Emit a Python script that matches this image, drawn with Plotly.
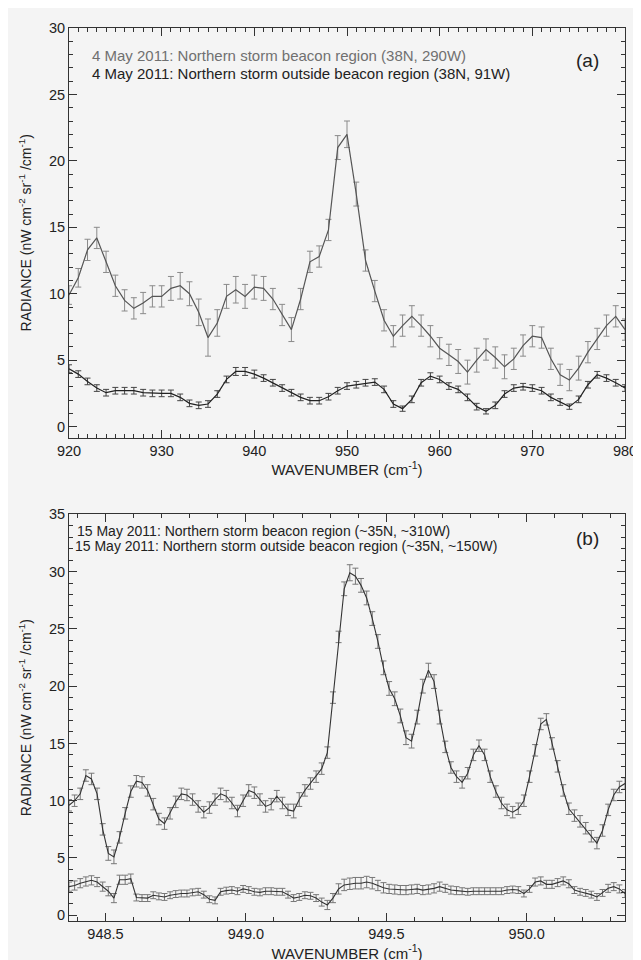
import plotly.graph_objects as go

# ---------------- Panel (a): 4 May 2011, Cassini CIRS ----------------
wn_a = [920, 921, 922, 923, 924, 925, 926, 927, 928, 929,
        930, 931, 932, 933, 934, 935, 936, 937, 938, 939,
        940, 941, 942, 943, 944, 945, 946, 947, 948, 949,
        950, 951, 952, 953, 954, 955, 956, 957, 958, 959,
        960, 961, 962, 963, 964, 965, 966, 967, 968, 969,
        970, 971, 972, 973, 974, 975, 976, 977, 978, 979, 980]

beacon_a = [9.9, 11.2, 13.3, 14.2, 12.4, 10.6, 9.5, 8.9, 9.3, 9.8,
            9.8, 10.4, 10.6, 10.0, 8.6, 6.7, 7.8, 9.8, 10.3, 9.8,
            10.5, 10.4, 9.6, 8.4, 7.3, 9.6, 12.4, 12.8, 14.8, 21.0,
            22.0, 17.5, 12.5, 10.2, 8.0, 6.8, 7.6, 8.3, 7.6, 6.8,
            5.9, 5.4, 4.9, 4.1, 5.0, 5.8, 5.2, 4.5, 5.1, 6.1,
            6.8, 6.7, 5.1, 3.9, 3.5, 4.4, 5.6, 6.6, 7.6, 8.3, 7.3]

beacon_a_err = [0.7, 0.7, 0.8, 0.8, 0.8, 0.8, 0.8, 0.8, 0.8, 0.8,
                0.8, 0.9, 1.0, 0.9, 1.0, 1.4, 1.0, 0.9, 1.0, 0.9,
                0.9, 0.9, 0.8, 0.8, 0.9, 0.8, 0.8, 0.8, 0.8, 0.9,
                1.0, 0.9, 0.8, 0.8, 0.8, 0.8, 0.8, 0.8, 0.8, 0.8,
                0.8, 0.8, 0.9, 0.9, 0.9, 0.8, 0.8, 0.9, 0.8, 0.8,
                0.8, 0.8, 0.8, 0.8, 0.8, 0.9, 0.8, 0.8, 0.8, 0.8, 0.8]

outside_a = [4.35, 3.95, 3.4, 2.9, 2.55, 2.7, 2.7, 2.7, 2.55, 2.5,
             2.5, 2.5, 2.2, 1.75, 1.6, 1.7, 2.45, 3.55, 4.15, 4.15,
             3.95, 3.65, 3.3, 2.9, 2.55, 2.2, 1.95, 1.95, 2.25, 2.7,
             3.05, 3.15, 3.3, 3.35, 2.8, 1.7, 1.35, 2.05, 3.3, 3.8,
             3.55, 3.05, 2.8, 2.2, 1.5, 1.15, 1.6, 2.45, 2.9, 3.0,
             2.9, 2.7, 2.2, 1.85, 1.5, 2.05, 3.15, 3.9, 3.65, 3.3, 2.9]

outside_a_err = [0.3, 0.25, 0.25, 0.25, 0.25, 0.25, 0.25, 0.25, 0.25, 0.25,
                 0.25, 0.25, 0.25, 0.25, 0.25, 0.25, 0.25, 0.25, 0.3, 0.3,
                 0.3, 0.25, 0.25, 0.25, 0.25, 0.25, 0.25, 0.25, 0.25, 0.25,
                 0.25, 0.25, 0.25, 0.25, 0.25, 0.25, 0.2, 0.25, 0.25, 0.25,
                 0.25, 0.25, 0.25, 0.25, 0.25, 0.2, 0.25, 0.25, 0.25, 0.25,
                 0.25, 0.25, 0.25, 0.25, 0.2, 0.25, 0.25, 0.25, 0.25, 0.25, 0.25]

# ---------------- Panel (b): 15 May 2011, high resolution ----------------
wn_b = [948.37, 948.39, 948.41, 948.43, 948.45, 948.47, 948.49, 948.51, 948.53, 948.55,
        948.57, 948.59, 948.61, 948.63, 948.65, 948.67, 948.69, 948.71, 948.73, 948.75,
        948.77, 948.79, 948.81, 948.83, 948.85, 948.87, 948.89, 948.91, 948.93, 948.95,
        948.97, 948.99, 949.01, 949.03, 949.05, 949.07, 949.09, 949.11, 949.13, 949.15,
        949.17, 949.19, 949.21, 949.23, 949.25, 949.27, 949.29, 949.31, 949.33, 949.35,
        949.37, 949.39, 949.41, 949.43, 949.45, 949.47, 949.49, 949.51, 949.53, 949.55,
        949.57, 949.59, 949.61, 949.63, 949.65, 949.67, 949.69, 949.71, 949.73, 949.75,
        949.77, 949.79, 949.81, 949.83, 949.85, 949.87, 949.89, 949.91, 949.93, 949.95,
        949.97, 949.99, 950.01, 950.03, 950.05, 950.07, 950.09, 950.11, 950.13, 950.15,
        950.17, 950.19, 950.21, 950.23, 950.25, 950.27, 950.29, 950.31, 950.33, 950.35]

beacon_b = [9.6, 10.0, 10.6, 12.2, 11.9, 10.6, 7.5, 5.4, 5.1, 6.8,
            8.9, 10.8, 11.7, 11.6, 10.9, 9.7, 8.4, 8.0, 8.9, 9.9,
            10.6, 10.5, 10.1, 9.5, 9.0, 9.4, 10.1, 10.6, 10.4, 9.8,
            9.1, 10.0, 10.9, 10.7, 10.1, 9.5, 9.7, 10.4, 9.8, 9.2,
            9.1, 10.1, 10.9, 11.5, 12.1, 12.8, 14.2, 19.0, 24.3, 28.5,
            29.9, 29.6, 28.8, 27.7, 25.9, 23.9, 21.6, 19.8, 18.9, 17.4,
            15.5, 15.2, 17.3, 20.0, 21.4, 20.4, 17.3, 14.7, 12.9, 12.1,
            11.6, 12.4, 14.0, 14.8, 14.0, 12.1, 10.8, 9.8, 9.2, 9.0,
            9.3, 10.0, 12.1, 14.4, 16.7, 17.1, 15.0, 13.0, 10.9, 9.3,
            8.7, 8.2, 7.6, 6.9, 6.3, 7.4, 9.2, 10.5, 11.2, 11.5]

beacon_b_err = [0.5, 0.5, 0.5, 0.5, 0.5, 0.5, 0.5, 0.6, 0.6, 0.5,
                0.5, 0.5, 0.5, 0.5, 0.5, 0.5, 0.5, 0.5, 0.5, 0.5,
                0.5, 0.5, 0.5, 0.5, 0.5, 0.5, 0.5, 0.5, 0.5, 0.5,
                0.5, 0.5, 0.5, 0.5, 0.5, 0.5, 0.5, 0.5, 0.5, 0.5,
                0.6, 0.6, 0.5, 0.5, 0.5, 0.5, 0.5, 0.5, 0.5, 0.6,
                0.7, 0.7, 0.6, 0.6, 0.6, 0.6, 0.6, 0.6, 0.6, 0.6,
                0.6, 0.6, 0.6, 0.6, 0.6, 0.6, 0.6, 0.5, 0.5, 0.5,
                0.5, 0.5, 0.5, 0.5, 0.5, 0.5, 0.5, 0.5, 0.5, 0.5,
                0.5, 0.5, 0.5, 0.5, 0.5, 0.5, 0.5, 0.5, 0.5, 0.5,
                0.5, 0.5, 0.5, 0.5, 0.5, 0.5, 0.5, 0.5, 0.5, 0.5]

outside_b = [2.5, 2.6, 2.8, 2.95, 3.05, 2.9, 2.5, 2.1, 1.5, 3.1,
             3.1, 3.2, 1.55, 1.5, 1.5, 1.75, 1.65, 1.6, 1.75, 1.85,
             1.9, 1.9, 2.0, 2.05, 1.8, 1.4, 1.3, 2.05, 2.15, 2.2,
             2.1, 2.3, 2.2, 2.05, 2.0, 2.1, 2.1, 2.05, 2.05, 1.8,
             1.5, 1.6, 1.75, 1.7, 1.5, 1.15, 0.9, 1.5, 2.3, 2.65,
             2.75, 2.8, 2.8, 2.9, 2.8, 2.6, 2.4, 2.3, 2.25, 2.2,
             2.2, 2.25, 2.3, 2.2, 2.25, 2.35, 2.5, 2.35, 2.2, 2.15,
             2.1, 2.05, 2.1, 2.1, 2.1, 2.1, 2.1, 2.1, 2.2, 2.25,
             2.2, 1.9, 2.3, 2.9, 3.0, 2.7, 2.7, 2.85, 3.0, 2.75,
             2.2, 2.05, 1.95, 1.8, 1.6, 1.95, 2.35, 2.5, 2.3, 1.9]

outside_b_err = [0.4, 0.4, 0.4, 0.4, 0.4, 0.4, 0.4, 0.4, 0.4, 0.4,
                 0.4, 0.4, 0.3, 0.3, 0.3, 0.3, 0.3, 0.3, 0.3, 0.3,
                 0.3, 0.3, 0.3, 0.3, 0.3, 0.3, 0.3, 0.3, 0.3, 0.3,
                 0.3, 0.3, 0.3, 0.3, 0.3, 0.3, 0.3, 0.3, 0.3, 0.3,
                 0.3, 0.3, 0.3, 0.3, 0.3, 0.35, 0.4, 0.4, 0.45, 0.5,
                 0.5, 0.5, 0.5, 0.5, 0.5, 0.45, 0.45, 0.4, 0.4, 0.4,
                 0.4, 0.4, 0.4, 0.4, 0.4, 0.4, 0.4, 0.35, 0.35, 0.35,
                 0.3, 0.3, 0.3, 0.3, 0.3, 0.3, 0.3, 0.3, 0.3, 0.3,
                 0.3, 0.3, 0.3, 0.35, 0.35, 0.35, 0.35, 0.35, 0.35, 0.35,
                 0.3, 0.3, 0.3, 0.3, 0.3, 0.3, 0.35, 0.35, 0.35, 0.35]

FONT = "Liberation Sans, Arial, sans-serif"
BG = "#f4f4f4"

fig = go.Figure()

def add(x, y, err, line_col, err_col, xa, ya, lw=1.2):
    fig.add_trace(go.Scatter(
        x=x, y=y, mode="lines", xaxis=xa, yaxis=ya, showlegend=False,
        line=dict(color=line_col, width=lw),
        error_y=dict(type="data", array=err, visible=True, color=err_col,
                     thickness=1, width=3)))

add(wn_a, beacon_a, beacon_a_err, "#555555", "#8a8a8a", "x", "y")
add(wn_a, outside_a, outside_a_err, "#222222", "#444444", "x", "y")
add(wn_b, beacon_b, beacon_b_err, "#333333", "#777777", "x2", "y2", 1.1)
add(wn_b, outside_b, outside_b_err, "#333333", "#777777", "x2", "y2", 1.1)

axis_common = dict(
    showline=True, linecolor="#333", linewidth=1, mirror="ticks",
    ticks="inside", ticklen=8, tickcolor="#333", tickwidth=1,
    showgrid=False, zeroline=False,
    tickfont=dict(family=FONT, size=14.5, color="#222"),
)
ytitle = "RADIANCE (nW cm<sup>-2</sup> sr<sup>-1</sup> /cm<sup>-1</sup>)"
xtitle = "WAVENUMBER (cm<sup>-1</sup>)"
xtfont = dict(family=FONT, size=15, color="#222")
ytfont = dict(family=FONT, size=14, color="#222")

fig.update_layout(
    width=641, height=960,
    margin=dict(l=61, r=13, t=17, b=47),
    paper_bgcolor=BG, plot_bgcolor=BG,
    xaxis=dict(domain=[0, 1], anchor="y", range=[920, 980], dtick=10, tick0=920,
               minor=dict(dtick=1, ticklen=4, ticks="inside", tickcolor="#333"),
               title=dict(text=xtitle, font=xtfont, standoff=0), **axis_common),
    yaxis=dict(domain=[0.5413, 1], anchor="x", range=[-0.83, 30], dtick=5, tick0=0,
               minor=dict(dtick=1, ticklen=4, ticks="inside", tickcolor="#333"),
               title=dict(text=ytitle, font=ytfont, standoff=14), **axis_common),
    xaxis2=dict(domain=[0, 1], anchor="y2", range=[948.37, 950.35], dtick=0.5, tick0=948.5,
                tickformat=".1f",
                minor=dict(dtick=0.1, ticklen=4, ticks="inside", tickcolor="#333"),
                title=dict(text=xtitle, font=xtfont, standoff=0), **axis_common),
    yaxis2=dict(domain=[0, 0.4554], anchor="x2", range=[-0.5, 35], dtick=5, tick0=0,
                minor=dict(dtick=1, ticklen=4, ticks="inside", tickcolor="#333"),
                title=dict(text=ytitle, font=ytfont, standoff=14), **axis_common),
)

ann_font_light = dict(family=FONT, size=15, color="#707070")
ann_font_dark = dict(family=FONT, size=15, color="#222")
ann_font_b = dict(family=FONT, size=14, color="#222")

fig.add_annotation(xref="x domain", yref="y domain", x=0.037, y=0.933, xanchor="left", yanchor="middle",
                   text="4 May 2011: Northern storm beacon region (38N, 290W)", showarrow=False, font=ann_font_light)
fig.add_annotation(xref="x domain", yref="y domain", x=0.037, y=0.888, xanchor="left", yanchor="middle",
                   text="4 May 2011: Northern storm outside beacon region (38N, 91W)", showarrow=False, font=ann_font_dark)
fig.add_annotation(xref="x domain", yref="y domain", x=0.933, y=0.92, xanchor="center", yanchor="middle",
                   text="(a)", showarrow=False, font=dict(family=FONT, size=19, color="#222"))

fig.add_annotation(xref="x2 domain", yref="y2 domain", x=0.01, y=0.96, xanchor="left", yanchor="middle",
                   text="15 May 2011: Northern storm beacon region (~35N, ~310W)", showarrow=False, font=ann_font_b)
fig.add_annotation(xref="x2 domain", yref="y2 domain", x=0.008, y=0.922, xanchor="left", yanchor="middle",
                   text="15 May 2011: Northern storm outside beacon region (~35N, ~150W)", showarrow=False, font=ann_font_b)
fig.add_annotation(xref="x2 domain", yref="y2 domain", x=0.933, y=0.94, xanchor="center", yanchor="middle",
                   text="(b)", showarrow=False, font=dict(family=FONT, size=19, color="#222"))

fig.write_html("out.html")
